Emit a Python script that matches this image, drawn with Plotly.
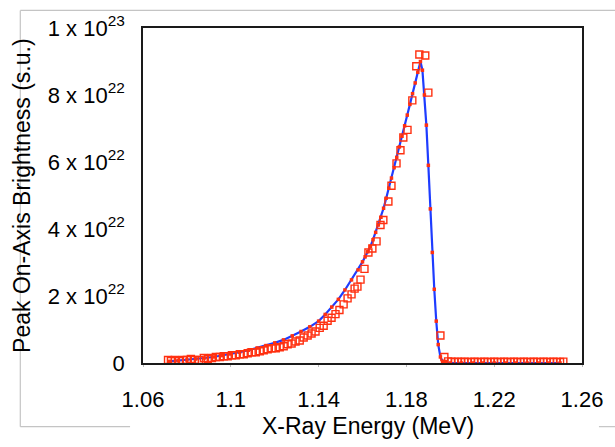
import plotly.graph_objects as go

SCALE = 1e22  # brightness values below are in units of 1e22 s.u.

# Simulated spectrum (blue curve with red sample points)
sim_energy = [
    1.072, 1.076, 1.080, 1.084, 1.088, 1.092, 1.096, 1.100, 1.104, 1.108,
    1.112, 1.116, 1.120, 1.124, 1.128, 1.132, 1.136, 1.140, 1.143, 1.146,
    1.149, 1.152, 1.155, 1.158, 1.1600, 1.1612, 1.1624, 1.1636, 1.1648, 1.1660,
    1.1672, 1.1684, 1.1696, 1.1708, 1.1720, 1.1732, 1.1744, 1.1756, 1.1768, 1.1780,
    1.1792, 1.1804, 1.1816, 1.1828, 1.1840, 1.1852, 1.1864, 1.1873, 1.1882, 1.1891,
    1.1900, 1.1909, 1.1918, 1.1927, 1.1936, 1.1945, 1.1955, 1.1965, 1.1980, 1.2000,
    1.205, 1.210, 1.215, 1.220, 1.225, 1.230, 1.235, 1.240, 1.245, 1.250,
]
sim_brightness = [
    0.05, 0.07, 0.09, 0.12, 0.15, 0.18, 0.22, 0.27, 0.32, 0.38,
    0.45, 0.52, 0.60, 0.69, 0.81, 0.94, 1.08, 1.25, 1.45, 1.67,
    1.90, 2.18, 2.48, 2.78, 3.02, 3.17, 3.32, 3.48, 3.68, 3.90,
    4.12, 4.35, 4.62, 4.92, 5.22, 5.52, 5.83, 6.14, 6.45, 6.77,
    7.08, 7.40, 7.72, 8.04, 8.36, 8.68, 9.00, 8.74, 8.00, 7.10,
    5.90, 4.60, 3.30, 2.20, 1.25, 0.55, 0.18, 0.05, 0.01, 0.00,
    0.00, 0.00, 0.00, 0.00, 0.00, 0.00, 0.00, 0.00, 0.00, 0.00,
]

# Measured spectrum (open squares)
meas_energy = [
    1.0714, 1.0727, 1.0745, 1.0764, 1.0782, 1.0800, 1.0818, 1.0836, 1.0855, 1.0877,
    1.0895, 1.0914, 1.0932, 1.0950, 1.0968, 1.0986, 1.1005, 1.1023, 1.1041, 1.1059,
    1.1077, 1.1095, 1.1114, 1.1132, 1.1150, 1.1168, 1.1186, 1.1205, 1.1223, 1.1241,
    1.1259, 1.1277, 1.1295, 1.1314, 1.1332, 1.1350, 1.1368, 1.1386, 1.1405, 1.1423,
    1.1441, 1.1459, 1.1477, 1.1495, 1.1514, 1.1532, 1.1550, 1.1564, 1.1577, 1.1591,
    1.1609, 1.1627, 1.1645, 1.1664, 1.1682, 1.1695, 1.1718, 1.1732, 1.1755, 1.1773,
    1.1786, 1.1805, 1.1827, 1.1845, 1.1859, 1.1886, 1.1900, 1.1955, 1.1973,
    1.1990, 1.2005, 1.2020, 1.2035, 1.2050, 1.2065, 1.2080, 1.2095, 1.2110, 1.2125,
    1.2140, 1.2155, 1.2170, 1.2185, 1.2200, 1.2215, 1.2230, 1.2245, 1.2260, 1.2275,
    1.2290, 1.2305, 1.2320, 1.2335, 1.2350, 1.2365, 1.2380, 1.2395, 1.2410, 1.2425,
    1.2440, 1.2455, 1.2470, 1.2485, 1.2500, 1.2515,
]
meas_brightness = [
    0.09, 0.06, 0.09, 0.06, 0.09, 0.09, 0.12, 0.09, 0.09, 0.15,
    0.12, 0.15, 0.18, 0.18, 0.20, 0.20, 0.23, 0.23, 0.26, 0.26,
    0.29, 0.32, 0.32, 0.35, 0.38, 0.41, 0.44, 0.44, 0.47, 0.50,
    0.56, 0.58, 0.64, 0.67, 0.76, 0.82, 0.88, 0.94, 1.05, 1.11,
    1.26, 1.35, 1.46, 1.58, 1.75, 1.93, 2.05, 2.22, 2.28, 2.49,
    2.81, 3.30, 3.42, 3.63, 4.12, 4.27, 4.82, 5.29, 5.96, 6.35,
    6.73, 6.96, 7.84, 8.86, 9.21, 9.18, 8.07, 0.82, 0.18,
    0.05, 0.04, 0.03, 0.04, 0.03, 0.04, 0.03, 0.03, 0.04, 0.03,
    0.03, 0.04, 0.03, 0.03, 0.04, 0.03, 0.03, 0.04, 0.03, 0.03,
    0.04, 0.03, 0.03, 0.04, 0.03, 0.03, 0.04, 0.03, 0.03, 0.04,
    0.03, 0.03, 0.04, 0.03, 0.03, 0.04,
]

x_ticks = [1.06, 1.10, 1.14, 1.18, 1.22, 1.26]
x_tick_labels = ["1.06", "1.1", "1.14", "1.18", "1.22", "1.26"]
y_ticks = [0, 2e22, 4e22, 6e22, 8e22, 1e23]
y_tick_labels = ["0", "2 x 10<sup>22</sup>", "4 x 10<sup>22</sup>",
                 "6 x 10<sup>22</sup>", "8 x 10<sup>22</sup>", "1 x 10<sup>23</sup>"]

RED = "#ff3010"
BLUE = "#1e3cff"
FONT = "Liberation Sans, Arial, sans-serif"

fig = go.Figure()
fig.add_trace(go.Scatter(
    x=sim_energy, y=[v * SCALE for v in sim_brightness],
    mode="lines+markers",
    line=dict(color=BLUE, width=2.2),
    marker=dict(symbol="square", size=3.5, color=RED, line=dict(width=0)),
    showlegend=False, hoverinfo="skip",
))
fig.add_trace(go.Scatter(
    x=meas_energy, y=[v * SCALE for v in meas_brightness],
    mode="markers",
    marker=dict(symbol="square-open", size=7, color=RED, line=dict(width=1.4, color=RED)),
    showlegend=False, hoverinfo="skip",
))

# light gray outer frame around the chart
frame = dict(type="line", xref="paper", yref="paper", layer="below",
             line=dict(color="#c4c4c4", width=1.2))
fig.add_shape(frame, x0=-0.2795, x1=1.08, y0=1.0526, y1=1.0526)
fig.add_shape(frame, x0=-0.2795, x1=-0.2795, y0=1.0526, y1=-0.19)
fig.add_shape(frame, x0=-0.2795, x1=-0.0295, y0=-0.19, y1=-0.19)
fig.add_shape(frame, x0=1.0386, x1=1.08, y0=-0.19, y1=-0.19)

fig.add_annotation(text="X-Ray Energy (MeV)", xref="paper", yref="paper",
                   x=0.513, y=-0.187, xanchor="center", yanchor="middle",
                   showarrow=False, font=dict(family=FONT, size=23, color="#000"))
fig.add_annotation(text="Peak On-Axis Brightness (s.u.)", xref="paper", yref="paper",
                   x=-0.277, y=0.5, xanchor="center", yanchor="middle", textangle=-90,
                   showarrow=False, font=dict(family=FONT, size=23, color="#000"))

fig.update_layout(
    width=615, height=447,
    margin=dict(l=143, r=32, t=21, b=84),
    paper_bgcolor="white", plot_bgcolor="white",
    font=dict(family=FONT, size=22, color="#000"),
    showlegend=False,
)
fig.update_xaxes(
    range=[1.06, 1.26], tickvals=x_ticks, ticktext=x_tick_labels,
    showgrid=False, zeroline=False,
    showline=True, linecolor="#1a1a1a", linewidth=1.6, mirror=True,
    ticks="outside", ticklen=2, tickcolor="#bbbbbb", tickwidth=1,
    ticklabelstandoff=14,
    tickfont=dict(family=FONT, size=22, color="#000"),
)
fig.update_yaxes(
    range=[0, 1e23], tickvals=y_ticks, ticktext=y_tick_labels,
    showgrid=False, zeroline=False,
    showline=True, linecolor="#1a1a1a", linewidth=1.6, mirror=True,
    ticks="", ticklabelstandoff=12,
    tickfont=dict(family=FONT, size=22, color="#000"),
)

fig.write_html("out.html")
